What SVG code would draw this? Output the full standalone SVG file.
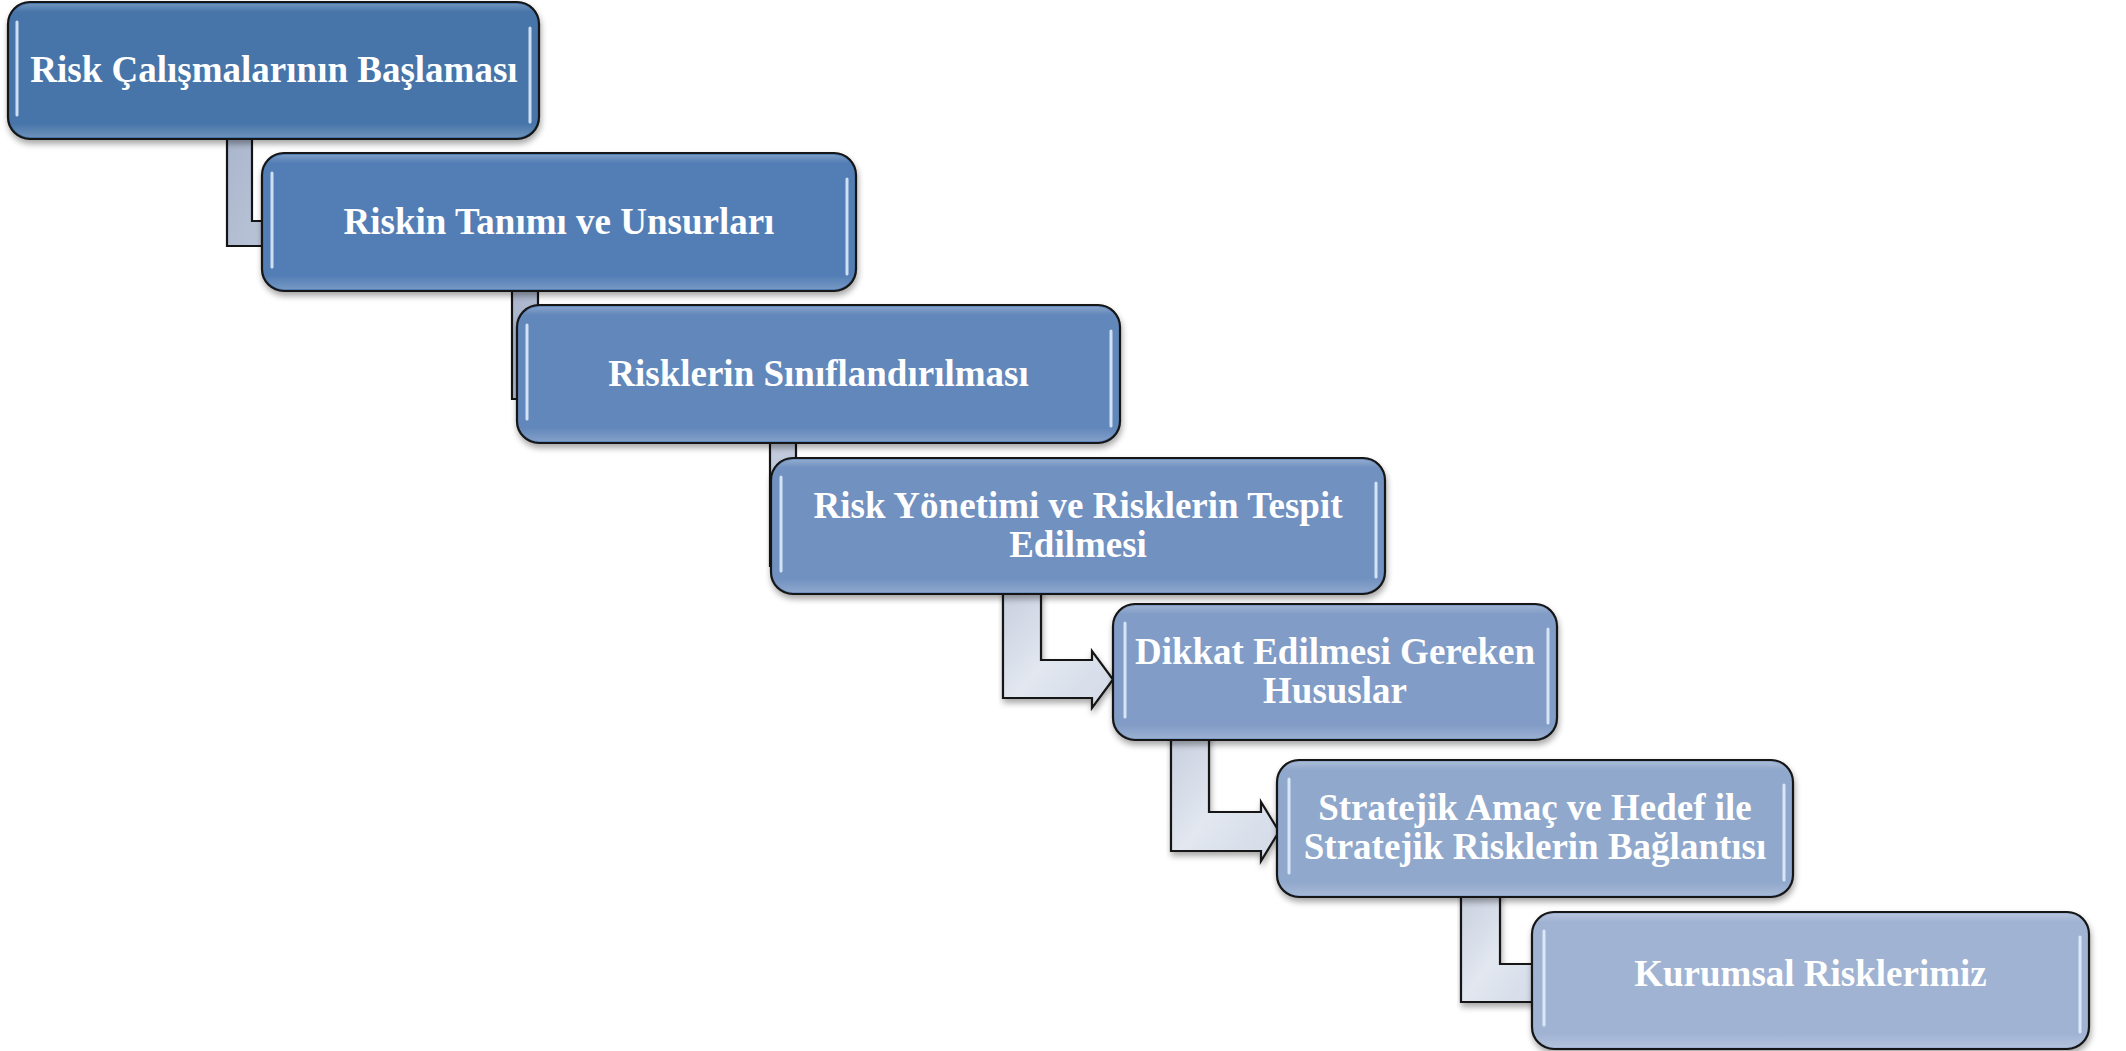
<svg xmlns="http://www.w3.org/2000/svg" width="2126" height="1051" viewBox="0 0 2126 1051">
<style>
.box{stroke:#141414;stroke-width:2.2}
.hl{stroke:#e6f1ff;stroke-width:3;stroke-linecap:round;fill:none;opacity:0.85}
.conn{stroke:#141414;stroke-width:2.2;stroke-linejoin:miter}
.lbl{font-family:"Liberation Serif","Times New Roman",serif;font-weight:bold;font-size:37px;fill:#ffffff;text-anchor:middle}
</style>
<defs>
<filter id="sh" x="-5%" y="-10%" width="110%" height="130%">
<feGaussianBlur in="SourceAlpha" stdDeviation="3"/>
<feOffset dx="1" dy="4" result="b"/>
<feComponentTransfer><feFuncA type="linear" slope="0.35"/></feComponentTransfer>
<feMerge><feMergeNode/><feMergeNode in="SourceGraphic"/></feMerge>
</filter>
<linearGradient id="gloss" x1="0" y1="0" x2="0" y2="1">
<stop offset="0" stop-color="#ffffff" stop-opacity="0.22"/>
<stop offset="0.06" stop-color="#ffffff" stop-opacity="0"/>
<stop offset="0.9" stop-color="#ffffff" stop-opacity="0"/>
<stop offset="1" stop-color="#ffffff" stop-opacity="0.2"/>
</linearGradient>
<linearGradient id="cg1" x1="0" y1="0" x2="1" y2="1">
<stop offset="0" stop-color="#a9b5cc"/>
<stop offset="1" stop-color="#bcc6d9"/>
</linearGradient>
<linearGradient id="cg2" x1="0" y1="0" x2="1" y2="1">
<stop offset="0" stop-color="#c6cedd"/>
<stop offset="0.5" stop-color="#e2e7f0"/>
<stop offset="1" stop-color="#d2d9e6"/>
</linearGradient>
</defs>
<rect width="2126" height="1051" fill="#ffffff"/>
<g id="connectors">
<path class="conn" fill="url(#cg1)" d="M227,130 H252 V221 H275 V246 H227 Z"/>
<path class="conn" fill="url(#cg1)" d="M512,280 H538 V373 H560 V399 H512 Z"/>
<path class="conn" fill="#c2cbdd" d="M770,430 H796 V540 H810 V566 H770 Z"/>
<path class="conn" fill="url(#cg2)" filter="url(#sh)" d="M1003,585 H1041 V660 H1092 V651 L1113,679.5 L1092,708 V698 H1003 Z"/>
<path class="conn" fill="url(#cg2)" filter="url(#sh)" d="M1171,730 H1209 V812 H1261 V802 L1279,831.5 L1261,861 V851 H1171 Z"/>
<path class="conn" fill="url(#cg2)" filter="url(#sh)" d="M1461,888 H1500 V964 H1545 V1002 H1461 Z"/>
</g>
<g id="node1">
<rect class="box" filter="url(#sh)" x="8" y="2" width="531" height="137" rx="22" fill="#4674a9"/>
<rect x="10" y="4" width="527" height="133" rx="20" fill="url(#gloss)"/>
<path class="hl" d="M17,22 V115 M530,28 V122"/>
<text class="lbl" x="274" y="82">Risk Çalışmalarının Başlaması</text>
</g>
<g id="node2">
<rect class="box" filter="url(#sh)" x="262" y="153" width="594" height="138" rx="22" fill="#527eb5"/>
<rect x="264" y="155" width="590" height="134" rx="20" fill="url(#gloss)"/>
<path class="hl" d="M272,173 V267 M847,179 V274"/>
<text class="lbl" x="559" y="234">Riskin Tanımı ve Unsurları</text>
</g>
<g id="node3">
<rect class="box" filter="url(#sh)" x="517" y="305" width="603" height="138" rx="22" fill="#6287ba"/>
<rect x="519" y="307" width="599" height="134" rx="20" fill="url(#gloss)"/>
<path class="hl" d="M527,325 V419 M1111,331 V426"/>
<text class="lbl" x="818.5" y="386">Risklerin Sınıflandırılması</text>
</g>
<g id="node4">
<rect class="box" filter="url(#sh)" x="771" y="458" width="614" height="136" rx="22" fill="#7191c0"/>
<rect x="773" y="460" width="610" height="132" rx="20" fill="url(#gloss)"/>
<path class="hl" d="M781,477 V571 M1376,483 V577"/>
<text class="lbl" x="1078" y="518">Risk Yönetimi ve Risklerin Tespit</text>
<text class="lbl" x="1078" y="557">Edilmesi</text>
</g>
<g id="node5">
<rect class="box" filter="url(#sh)" x="1113" y="604" width="444" height="136" rx="22" fill="#819cc6"/>
<rect x="1115" y="606" width="440" height="132" rx="20" fill="url(#gloss)"/>
<path class="hl" d="M1125,623 V717 M1548,629 V723"/>
<text class="lbl" x="1335" y="664">Dikkat Edilmesi Gereken</text>
<text class="lbl" x="1335" y="703">Hususlar</text>
</g>
<g id="node6">
<rect class="box" filter="url(#sh)" x="1277" y="760" width="516" height="137" rx="22" fill="#90a8cc"/>
<rect x="1279" y="762" width="512" height="133" rx="20" fill="url(#gloss)"/>
<path class="hl" d="M1289,779 V873 M1784,785 V880"/>
<text class="lbl" x="1535" y="820">Stratejik Amaç ve Hedef ile</text>
<text class="lbl" x="1535" y="859">Stratejik Risklerin Bağlantısı</text>
</g>
<g id="node7">
<rect class="box" filter="url(#sh)" x="1532" y="912" width="557" height="137" rx="22" fill="#a0b3d3"/>
<rect x="1534" y="914" width="553" height="133" rx="20" fill="url(#gloss)"/>
<path class="hl" d="M1544,931 V1025 M2080,937 V1032"/>
<text class="lbl" x="1810.5" y="986">Kurumsal Risklerimiz</text>
</g>
</svg>
